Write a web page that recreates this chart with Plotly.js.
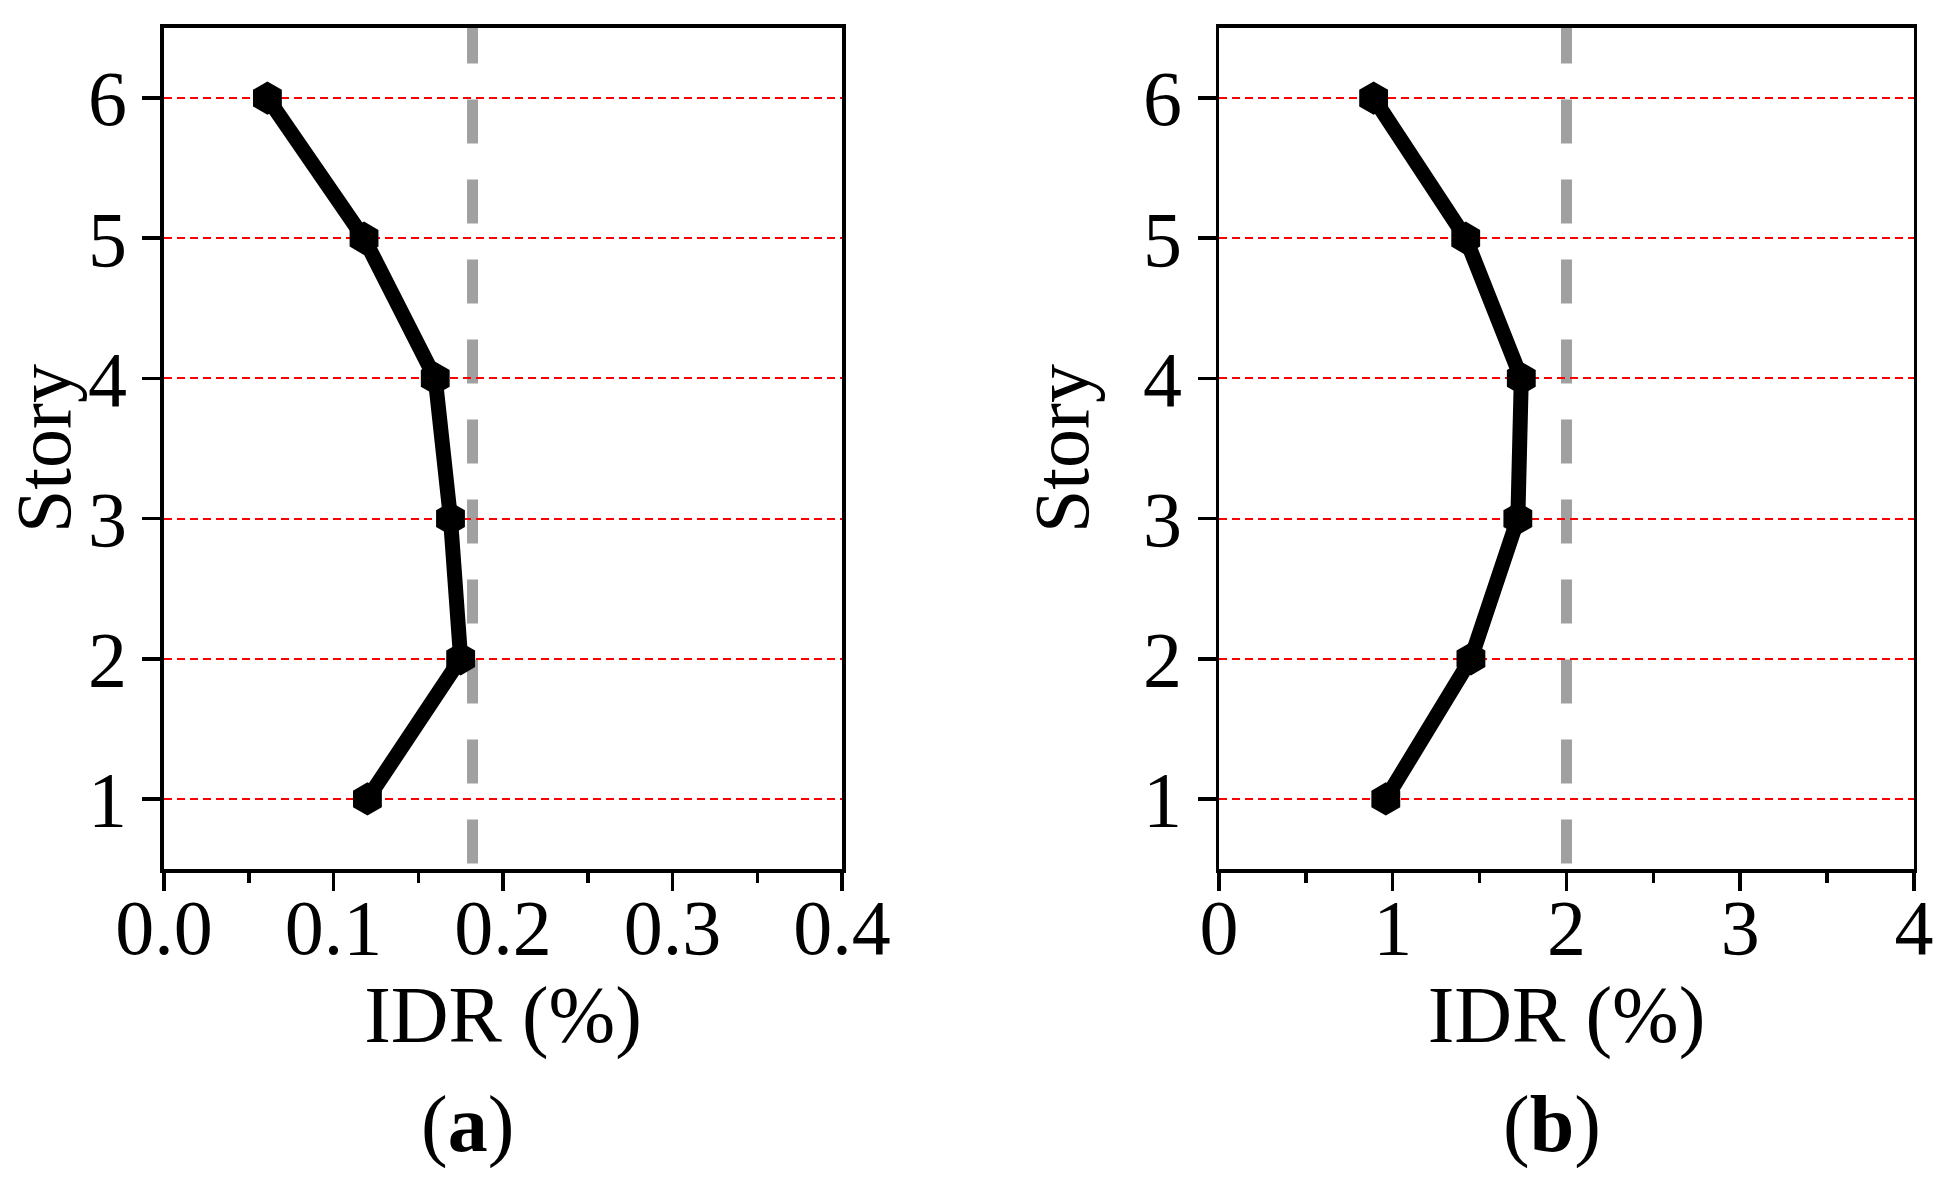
<!DOCTYPE html>
<html>
<head>
<meta charset="utf-8">
<script src="https://cdn.plot.ly/plotly-3.0.1.min.js"></script>
<style>html,body{margin:0;padding:0;background:#fff;}#chart{width:1957px;height:1190px;}</style>
</head>
<body>
<div id="chart"></div>
<script>
// ---- data ----
const stories = [1, 2, 3, 4, 5, 6];
const idrA = [0.120, 0.175, 0.169, 0.160, 0.118, 0.061];
const idrB = [0.96, 1.45, 1.72, 1.74, 1.42, 0.89];
const limitA = [0.182];
const limitB = [2.0];
const panelLabels = ['(<b>a</b>)', '(<b>b</b>)'];
const xTitle = 'IDR (%)';
const yTitle = 'Story';

const FONT = '"Liberation Serif", "Times New Roman", Times, serif';
const TICKFS = 78;

function lineTrace(x, y, xa, ya) {
  return {
    x: x, y: y, xaxis: xa, yaxis: ya, type: 'scatter', mode: 'lines+markers',
    line: {color: '#000', width: 15},
    marker: {symbol: 'hexagon', size: 31, color: '#000', line: {color: '#000', width: 2}},
    hoverinfo: 'skip', showlegend: false
  };
}

const data = [
  lineTrace(idrA, stories, 'x', 'y'),
  lineTrace(idrB, stories, 'x2', 'y2')
];

function xax(domain, range, dtick, minor, fmt) {
  return {
    domain: domain, range: range, dtick: dtick, tick0: 0, tickformat: fmt,
    showline: true, linecolor: '#000', linewidth: 3.5, mirror: true,
    ticks: 'outside', ticklen: 18, tickwidth: 3.5, tickcolor: '#000',
    minor: {dtick: minor, ticks: 'outside', ticklen: 10, tickwidth: 3.5, tickcolor: '#000', showgrid: false},
    showgrid: false, zeroline: false,
    ticklabelstandoff: -30,
    tickfont: {family: FONT, size: TICKFS, color: '#000'},
    title: {text: xTitle, font: {family: FONT, size: 80, color: '#000'}, standoff: 12},
    fixedrange: true
  };
}
function yax(domain, anchor) {
  return {
    domain: domain, range: [0.5, 6.5], tickvals: stories, anchor: anchor,
    showline: true, linecolor: '#000', linewidth: 3.5, mirror: true,
    ticks: 'outside', ticklen: 18, tickwidth: 3.5, tickcolor: '#000',
    showgrid: true, gridcolor: '#ff0000', gridwidth: 2, griddash: '8px,5px',
    zeroline: false,
    tickfont: {family: FONT, size: TICKFS, color: '#000'},
    title: {text: yTitle, font: {family: FONT, size: 78, color: '#000'}, standoff: 29},
    fixedrange: true
  };
}

const yDom = [0.2697, 0.9765];
const layout = {
  width: 1957, height: 1190,
  margin: {l: 0, r: 0, t: 0, b: 0},
  paper_bgcolor: '#fff', plot_bgcolor: '#fff',
  font: {family: FONT, color: '#000'},
  xaxis: Object.assign(xax([0.0838, 0.4303], [0, 0.4], 0.1, 0.05, '.1f'), {anchor: 'y'}),
  yaxis: yax(yDom, 'x'),
  xaxis2: Object.assign(xax([0.6229, 0.978], [0, 4], 1, 0.5, 'd'), {anchor: 'y2'}),
  yaxis2: yax(yDom, 'x2'),
  shapes: [
    {type: 'line', xref: 'x', yref: 'y', x0: limitA[0], x1: limitA[0], y0: 6.56, y1: 0.5,
     line: {color: '#a0a0a0', width: 11, dash: '44px,36px'}, layer: 'below'},
    {type: 'line', xref: 'x2', yref: 'y2', x0: limitB[0], x1: limitB[0], y0: 6.56, y1: 0.5,
     line: {color: '#a0a0a0', width: 11, dash: '44px,36px'}, layer: 'below'}
  ],
  annotations: [
    {text: panelLabels[0], xref: 'paper', yref: 'paper', x: 467/1957, y: (1190-1124)/1190,
     xanchor: 'center', yanchor: 'middle', showarrow: false, font: {family: FONT, size: 80, color: '#000'}},
    {text: panelLabels[1], xref: 'paper', yref: 'paper', x: 1552/1957, y: (1190-1124)/1190,
     xanchor: 'center', yanchor: 'middle', showarrow: false, font: {family: FONT, size: 80, color: '#000'}}
  ]
};

Plotly.newPlot('chart', data, layout, {displayModeBar: false, staticPlot: true});
</script>
</body>
</html>
